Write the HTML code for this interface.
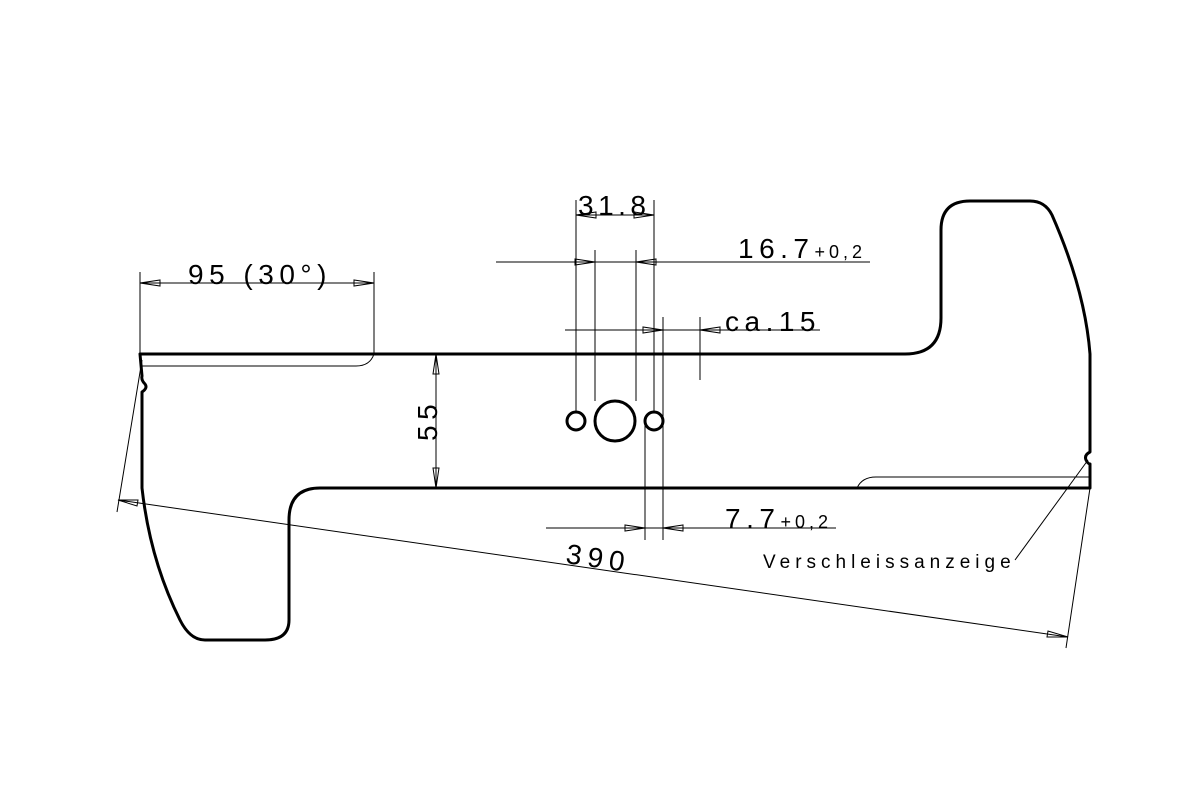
<!DOCTYPE html>
<html><head><meta charset="utf-8"><style>body{margin:0;background:#fff}svg{display:block}</style></head><body>
<svg width="1200" height="800" viewBox="0 0 1200 800" xmlns="http://www.w3.org/2000/svg" font-family="Liberation Sans, sans-serif">
<rect width="1200" height="800" fill="#fff"/>
<path d="M140,354 L905,354 Q941,354 941,318 L941,230 Q941,201 970,201 L1030,201 Q1045,201 1052,215 Q1085,290 1090,354 L1090,452 Q1084,455 1086,460 Q1088,464 1090,464 L1090,488 L320,488 Q289,488 289,520 L289,620 Q289,640 265,640 L205,640 Q190,640 180,620 Q150,560 142,488 L142,392 Q148,388 145,384 Q141,380 142,376 L140,354 Z" fill="none" stroke="#000" stroke-width="3" stroke-linejoin="round"/>
<g fill="none" stroke="#000" stroke-width="1">
<path d="M140,366 L356,366 Q370,366 374,354"/>
<path d="M857,488 Q862,477 876,477 L1090,477"/>
<path d="M140,272 V354 M374,272 V354 M140,283 H374"/>
<path d="M140,283 l20,-3 v6 z M374,283 l-20,-3 v6 z"/>
<path d="M436,354 V488 M436,354 l-3,20 h6 z M436,488 l-3,-20 h6 z"/>
<path d="M576,200 V411 M654,200 V411 M576,215 H654"/>
<path d="M576,215 l20,-3 v6 z M654,215 l-20,-3 v6 z"/>
<path d="M496,262 H870 M595,250 V401 M636,250 V401"/>
<path d="M595,262 l-20,-3 v6 z M636,262 l20,-3 v6 z"/>
<path d="M565,330 H820 M663,317 V540 M700,317 V380"/>
<path d="M663,330 l-20,-3 v6 z M700,330 l20,-3 v6 z"/>
<path d="M546,528 H836 M645,421 V540"/>
<path d="M645,528 l-20,-3 v6 z M663,528 l20,-3 v6 z"/>
<path d="M142,360 L117,512 M1090,488 L1066,648 M118,500 L1068,637"/>
<path d="M118,500 l20,0 l-1,6 z M1068,637 l-20,-6 l-1,6 z"/>
<path d="M1015,560 L1088,460"/>
</g>
<g fill="none" stroke="#000" stroke-width="3">
<circle cx="576" cy="421" r="9"/>
<circle cx="615" cy="421" r="20"/>
<circle cx="654" cy="421" r="9"/>
</g>
<g fill="#000" font-size="28" letter-spacing="5.5">
<text x="188" y="284">95 (30°)</text>
<text x="578" y="215" letter-spacing="4.5">31.8</text>
<text x="738" y="258">16.7<tspan font-size="18" letter-spacing="4">+0,2</tspan></text>
<text x="725" y="331">ca.15</text>
<text x="725" y="528">7.7<tspan font-size="18" letter-spacing="4">+0,2</tspan></text>
<text transform="translate(437,441) rotate(-90)">55</text>
<text transform="translate(565,563) rotate(8.2)" letter-spacing="6">390</text>
<text x="763" y="568" font-size="19" letter-spacing="5">Verschleissanzeige</text>
</g>
</svg>
</body></html>
